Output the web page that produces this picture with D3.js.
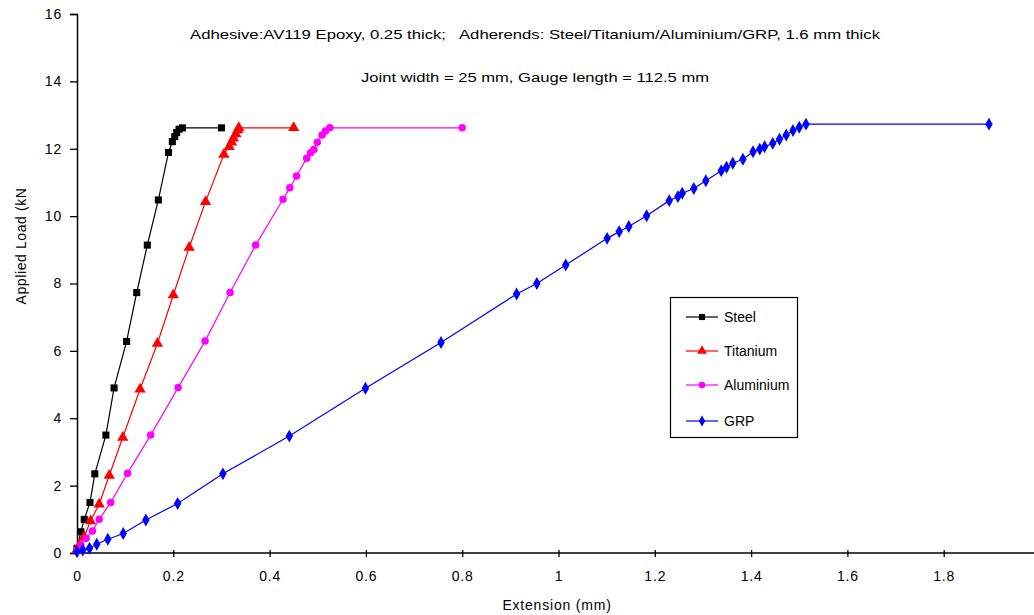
<!DOCTYPE html>
<html><head><meta charset="utf-8">
<script src="https://cdn.jsdelivr.net/npm/d3@7"></script>
<style>
body{margin:0;background:#fff;}
text{font-family:"Liberation Sans",Arial,sans-serif;fill:#000;}
</style></head>
<body><svg id="c" width="1034" height="615"></svg>
<script>
const seriesNames = ["Steel","Titanium","Aluminium","GRP"];
const steelX = [0,0.008,0.015,0.027,0.037,0.060,0.077,0.103,0.124,0.146,0.169,0.190,0.198,0.203,0.207,0.212,0.219,0.30];
const steelY = [0.14,0.63,1.0,1.5,2.35,3.5,4.9,6.28,7.73,9.14,10.48,11.89,12.21,12.36,12.48,12.58,12.62,12.62];
const titX = [0,0.005,0.015,0.028,0.046,0.067,0.095,0.131,0.167,0.200,0.233,0.267,0.305,0.316,0.321,0.325,0.330,0.334,0.336,0.45];
const titY = [0.1,0.24,0.48,0.95,1.45,2.3,3.43,4.86,6.22,7.66,9.07,10.43,11.83,12.06,12.19,12.31,12.44,12.56,12.62,12.62];
const aluX = [0,0.008,0.019,0.032,0.046,0.070,0.105,0.153,0.210,0.266,0.318,0.371,0.428,0.442,0.456,0.477,0.485,0.492,0.499,0.509,0.516,0.525,0.80];
const aluY = [0.07,0.24,0.44,0.65,1.0,1.5,2.37,3.5,4.91,6.29,7.73,9.14,10.5,10.84,11.19,11.72,11.88,11.98,12.19,12.41,12.53,12.62,12.62];
const grpX = [0,0.012,0.026,0.041,0.064,0.096,0.143,0.209,0.303,0.441,0.599,0.756,0.913,0.955,1.015,1.101,1.126,1.146,1.183,1.230,1.248,1.257,1.281,1.306,1.338,1.349,1.362,1.383,1.404,1.418,1.428,1.445,1.459,1.473,1.487,1.500,1.514,1.894];
const grpY = [0.04,0.09,0.14,0.26,0.41,0.58,0.98,1.47,2.35,3.47,4.89,6.25,7.69,8.0,8.55,9.34,9.54,9.69,10.01,10.46,10.58,10.68,10.82,11.05,11.35,11.45,11.57,11.69,11.91,11.99,12.06,12.16,12.28,12.41,12.54,12.64,12.73,12.73];
const xTicks = [0,0.2,0.4,0.6,0.8,1,1.2,1.4,1.6,1.8,2];
const yTicks = [0,2,4,6,8,10,12,14,16];
const titleLines = ["Adhesive:AV119 Epoxy, 0.25 thick;   Adherends: Steel/Titanium/Aluminium/GRP, 1.6 mm thick","Joint width = 25 mm, Gauge length = 112.5 mm"];

const svg = d3.select("#c");
const x = d3.scaleLinear().domain([0,2]).range([77,1040]);
const y = d3.scaleLinear().domain([0,16]).range([553,14]);

const colors = ["#000000","#ff0000","#ff00ff","#0000ff"];
const symbols = [d3.symbolSquare,d3.symbolTriangle,d3.symbolCircle,d3.symbolDiamond];
const sizes = [50,55,44,48];
const series = [[steelX,steelY],[titX,titY],[aluX,aluY],[grpX,grpY]];

// axes
const yAxis = d3.axisLeft(y).tickValues(yTicks).tickSize(7).tickPadding(8).tickFormat(d3.format("d"));
const gy = svg.append("g").attr("transform","translate(77,0)").call(yAxis);
const xAxis = d3.axisBottom(x).tickValues(xTicks).tickSizeInner(4).tickSizeOuter(0).tickPadding(14).tickFormat(d=>String(d));
const gx = svg.append("g").attr("transform","translate(0,553)").call(xAxis);
gx.selectAll(".tick line").attr("y1",-3).attr("y2",4);
[gx,gy].forEach(g=>{
  g.select(".domain").attr("stroke","#000").attr("stroke-width",1.5);
  g.selectAll(".tick line").attr("stroke","#000").attr("stroke-width",1.3);
  g.selectAll("text").attr("font-size",14).attr("font-family","Liberation Sans, Arial, sans-serif").style("letter-spacing","0.8px");
});
gx.select(".domain").attr("d","M77,0H1034");

// series
series.forEach((s,i)=>{
  const pts = s[0].map((v,j)=>[v,s[1][j]]);
  svg.append("path").datum(pts)
    .attr("fill","none").attr("stroke",colors[i]).attr("stroke-width",1.2)
    .attr("d",d3.line().x(d=>x(d[0])).y(d=>y(d[1])));
  svg.append("g").selectAll("path").data(pts).join("path")
    .attr("transform",d=>`translate(${x(d[0])},${y(d[1])})`)
    .attr("d",d3.symbol().type(symbols[i]).size(sizes[i]))
    .attr("fill",colors[i]);
});

// titles
svg.append("text").attr("x",535).attr("y",39).attr("text-anchor","middle").attr("font-size",13.5).attr("textLength",690).attr("lengthAdjust","spacingAndGlyphs").style("white-space","pre").text(titleLines[0]);
svg.append("text").attr("x",535).attr("y",82).attr("text-anchor","middle").attr("font-size",13.5).attr("textLength",348).attr("lengthAdjust","spacingAndGlyphs").text(titleLines[1]);

// axis labels
svg.append("text").attr("x",557).attr("y",610).attr("text-anchor","middle").attr("font-size",14).style("letter-spacing","0.8px").text("Extension (mm)");
svg.append("text").attr("transform","translate(26,246) rotate(-90)").attr("text-anchor","middle").attr("font-size",14).style("letter-spacing","0.6px").text("Applied Load (kN");

// legend
const lg = svg.append("g");
lg.append("rect").attr("x",670.5).attr("y",297.5).attr("width",127).attr("height",140).attr("fill","#fff").attr("stroke","#000").attr("stroke-width",1.2);
const ly = [317,351,385,421];
seriesNames.forEach((n,i)=>{
  lg.append("line").attr("x1",686).attr("x2",718).attr("y1",ly[i]).attr("y2",ly[i]).attr("stroke",colors[i]).attr("stroke-width",1.2);
  lg.append("path").attr("transform",`translate(702,${ly[i]})`).attr("d",d3.symbol().type(symbols[i]).size(sizes[i]*0.75)).attr("fill",colors[i]);
  lg.append("text").attr("x",724).attr("y",ly[i]+5).attr("font-size",14).text(n);
});
</script></body></html>
